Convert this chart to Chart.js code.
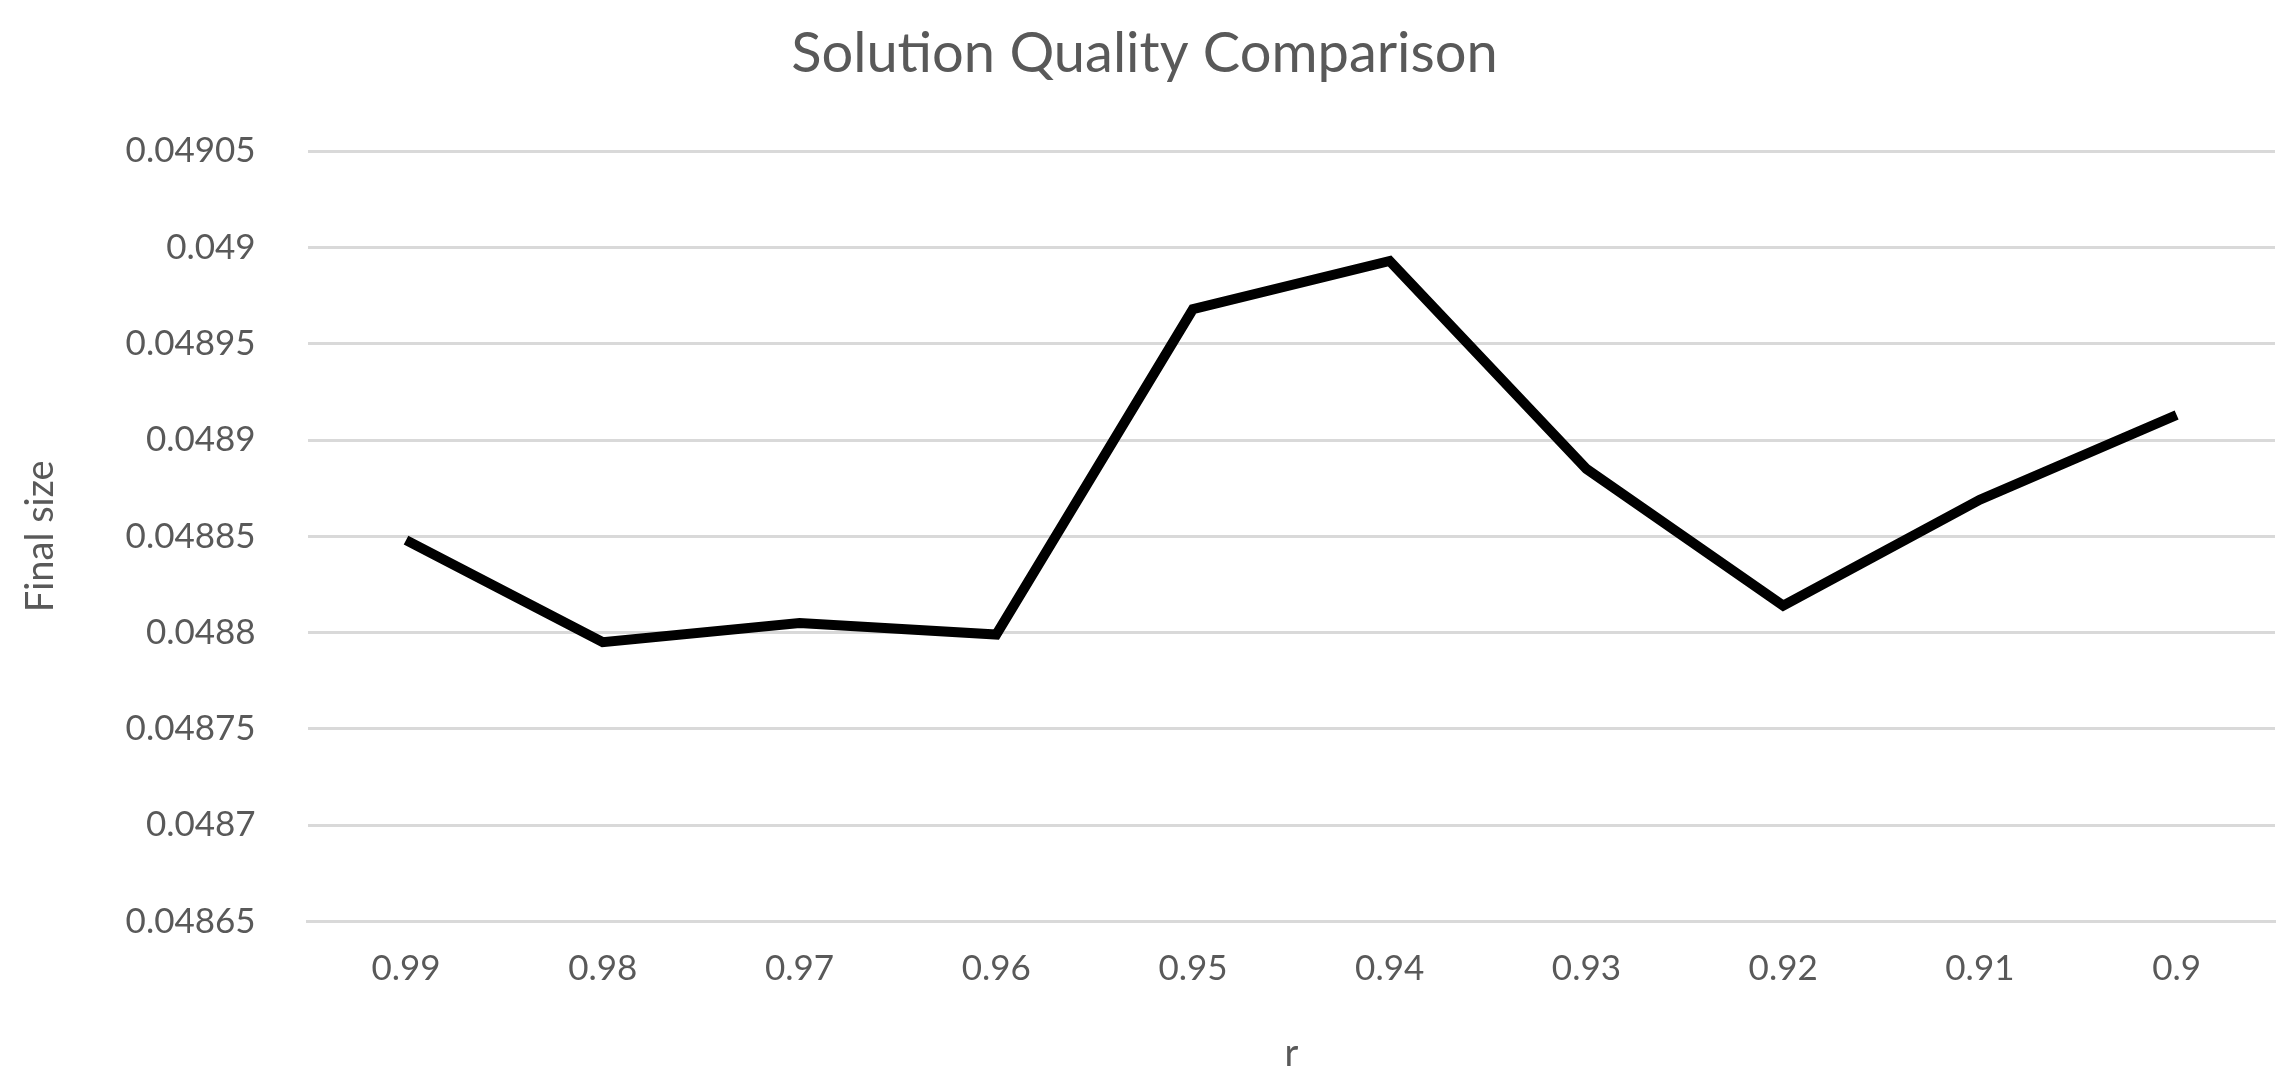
<!DOCTYPE html>
<html>
<head>
<meta charset="utf-8">
<script src="https://cdn.jsdelivr.net/npm/chart.js@4"></script>
<style>
  html, body { margin: 0; padding: 0; background: #fff; }
  #wrap { width: 2295px; height: 1087px; }
</style>
</head>
<body>
<div id="wrap"><canvas id="c"></canvas></div>
<script>
const rLabels = ["0.99", "0.98", "0.97", "0.96", "0.95", "0.94", "0.93", "0.92", "0.91", "0.9"];
const finalSize = [0.048848, 0.048795, 0.048805, 0.048799, 0.048968, 0.048993, 0.048885, 0.048814, 0.048869, 0.048913];
const yMin = 0.04865, yMax = 0.04905, yStep = 0.00005;

const FONT = "Lato, 'Open Sans', sans-serif";
const GREY = "#595959";

new Chart(document.getElementById("c").getContext("2d"), {
  type: "line",
  data: {
    labels: rLabels,
    datasets: [{
      data: finalSize, borderColor: "#000", borderWidth: 10,
      pointRadius: 0, tension: 0, fill: false,
    }],
  },
  options: {
    responsive: true, maintainAspectRatio: false, animation: false,
    layout: { padding: { left: 14, right: 20, top: 10, bottom: 6 } },
    plugins: {
      legend: { display: false }, tooltip: { enabled: false },
      title: {
        display: true, text: "Solution Quality Comparison", color: GREY,
        font: { family: FONT, size: 56, weight: "normal" }, padding: { top: 10, bottom: 64 },
      },
    },
    scales: {
      x: {
        offset: true,
        grid: { display: false },
        border: { color: "#d9d9d9", width: 3 },
        ticks: { color: GREY, font: { family: FONT, size: 35 }, padding: 18 },
        title: { display: true, text: "r", color: GREY, font: { family: FONT, size: 38 }, padding: { top: 24 } },
      },
      y: {
        min: yMin, max: yMax,
        grid: { color: "#d9d9d9", lineWidth: 3, drawTicks: false },
        border: { display: false },
        ticks: {
          stepSize: yStep, color: GREY, font: { family: FONT, size: 35 }, padding: 52,
          callback: (v) => parseFloat(Number(v).toFixed(5)).toString(),
        },
        title: { display: true, text: "Final size", color: GREY, font: { family: FONT, size: 38 }, padding: { bottom: 10 } },
      },
    },
  },
});
</script>
</body>
</html>
